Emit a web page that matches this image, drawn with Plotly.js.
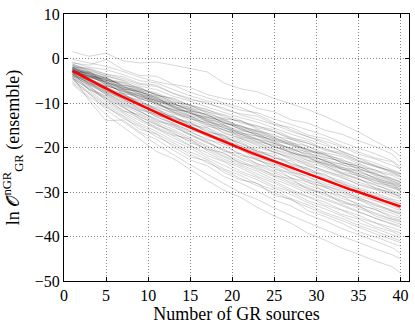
<!DOCTYPE html>
<html>
<head>
<meta charset="utf-8">
<script src="https://cdn.plot.ly/plotly-3.0.1.min.js"></script>
<style>
  html, body { margin: 0; padding: 0; background: #fff; }
</style>
</head>
<body>
<div id="graphDiv" style="width:415px;height:327px;"></div>
<script>
// x positions (number of GR sources) for the ensemble curves
const sourcesX = [1, 3, 5, 7, 9, 11, 13, 15, 17, 19, 21, 23, 25, 27, 29, 31, 33, 35, 37, 39, 40];

// mean curve (red), one value per source count 1..40
const meanX = [];
for (let n = 1; n <= 40; n++) meanX.push(n);
const meanY = [-2.8, -3.8, -4.8, -5.8, -6.8, -7.7, -8.6, -9.5, -10.4, -11.3,
    -12.2, -13.0, -13.9, -14.7, -15.5, -16.3, -17.1, -17.9, -18.7, -19.5,
    -20.2, -21.0, -21.7, -22.4, -23.1, -23.9, -24.6, -25.3, -26.0, -26.7,
    -27.4, -28.0, -28.7, -29.4, -30.0, -30.7, -31.3, -32.0, -32.6, -33.3];

// individual realisations (grey)
const run01 = [1.5, 0.5, 1.2, -0.5, -1.0, -0.8, -1.5, -2.2, -3.0, -5.5, -6.8, -7.5, -9.0, -10.2, -11.5, -13.0, -14.8, -16.5, -18.6, -20.5, -22.0];
const run02 = [-1.0, -1.5, -0.2, -2.5, -3.8, -4.0, -5.8, -6.5, -8.1, -9.0, -9.5, -11.2, -12.0, -13.8, -14.5, -16.1, -17.0, -18.5, -19.8, -21.5, -23.5];
const run03 = [-2.0, -2.2, -3.5, -4.1, -5.6, -6.0, -7.9, -9.3, -9.8, -11.5, -12.4, -13.0, -14.8, -15.5, -17.2, -18.0, -19.6, -21.0, -22.4, -23.2, -24.8];
const run04 = [-3.0, -3.1, -4.4, -6.0, -6.5, -8.3, -8.9, -10.6, -12.0, -12.8, -14.5, -15.3, -16.0, -17.8, -18.6, -20.4, -21.1, -22.9, -24.0, -25.4, -26.0];
const run05 = [-1.8, -3.5, -5.0, -5.4, -7.2, -8.0, -9.9, -10.5, -12.3, -13.6, -14.0, -15.9, -17.5, -18.1, -19.8, -21.2, -22.0, -23.6, -25.1, -26.0, -26.7];
const run06 = [-2.5, -4.0, -4.6, -6.8, -7.5, -9.2, -10.1, -11.8, -12.6, -14.4, -15.8, -16.5, -18.2, -19.0, -20.7, -21.5, -23.4, -24.2, -25.8, -27.3, -27.9];
const run07 = [-3.2, -3.9, -5.8, -7.0, -8.4, -9.0, -11.0, -12.2, -13.5, -14.9, -16.7, -17.4, -19.1, -20.3, -21.6, -23.0, -24.5, -25.1, -26.9, -28.0, -28.6];
const run08 = [-2.2, -4.5, -6.2, -7.1, -9.0, -10.1, -11.6, -13.0, -14.1, -15.6, -17.0, -18.7, -19.5, -21.3, -22.2, -23.8, -24.9, -26.5, -27.4, -29.0, -29.5];
const run09 = [-3.5, -4.2, -5.5, -7.8, -8.8, -10.6, -12.5, -13.4, -15.2, -16.0, -17.8, -19.0, -20.6, -21.8, -23.4, -24.5, -26.0, -27.2, -28.5, -29.6, -30.4];
const run10 = [-2.7, -5.0, -6.4, -8.0, -9.8, -11.0, -12.2, -14.0, -15.5, -17.3, -18.4, -20.1, -21.0, -22.7, -24.1, -25.6, -26.8, -28.2, -29.3, -30.5, -31.0];
const run11 = [-3.8, -4.8, -6.9, -8.5, -9.5, -11.8, -13.1, -14.6, -16.3, -17.5, -19.2, -20.5, -22.3, -23.5, -24.8, -26.3, -27.5, -29.0, -30.2, -31.6, -32.1];
const run12 = [-2.4, -4.6, -7.3, -8.9, -10.6, -12.1, -13.8, -15.1, -16.9, -18.4, -19.6, -21.4, -22.8, -24.4, -25.9, -27.0, -28.6, -29.8, -31.2, -32.4, -33.0];
const run13 = [-3.3, -5.6, -6.8, -9.2, -11.1, -12.7, -14.0, -15.8, -17.4, -18.9, -20.6, -22.0, -23.7, -25.0, -26.7, -28.1, -29.3, -30.9, -32.0, -33.5, -34.2];
const run14 = [-2.9, -5.2, -7.8, -9.6, -11.4, -13.0, -14.9, -16.6, -18.0, -19.8, -21.3, -22.9, -24.2, -26.1, -27.4, -29.0, -30.3, -31.6, -33.1, -34.3, -35.0];
const run15 = [-4.1, -5.9, -7.5, -10.0, -12.0, -13.6, -15.2, -17.3, -18.9, -20.4, -22.2, -23.6, -25.3, -26.8, -28.5, -29.7, -31.4, -32.6, -34.0, -35.4, -35.9];
const run16 = [-2.6, -5.4, -8.2, -10.5, -12.4, -14.3, -16.0, -17.8, -19.6, -21.4, -23.0, -24.7, -26.1, -27.9, -29.2, -30.8, -32.1, -33.7, -35.0, -36.2, -36.8];
const run17 = [-3.6, -6.3, -8.7, -10.9, -13.1, -14.8, -16.9, -18.6, -20.3, -22.1, -23.9, -25.4, -27.2, -28.6, -30.3, -31.7, -33.2, -34.5, -36.0, -37.4, -38.0];
const run18 = [-4.5, -6.8, -9.3, -11.6, -13.5, -15.7, -17.4, -19.5, -21.2, -23.0, -24.6, -26.5, -28.0, -29.8, -31.1, -32.9, -34.1, -35.8, -37.0, -38.6, -39.2];
const run19 = [-3.0, -7.2, -10.0, -12.3, -14.6, -16.4, -18.5, -20.1, -22.3, -24.0, -25.8, -27.3, -29.1, -30.6, -32.4, -33.8, -35.3, -36.9, -38.2, -39.5, -40.3];
const run20 = [-5.2, -8.0, -10.8, -13.4, -15.3, -17.6, -19.4, -21.5, -23.4, -25.1, -27.0, -28.6, -30.2, -31.9, -33.5, -35.0, -36.4, -37.9, -39.4, -40.7, -41.4];
const run21 = [-4.0, -9.5, -14.0, -13.8, -16.5, -18.2, -20.6, -22.8, -24.1, -26.5, -28.0, -29.9, -31.8, -33.2, -35.1, -36.5, -38.2, -39.6, -41.0, -42.5, -43.8];
const run22 = [-5.8, -9.0, -12.6, -15.4, -18.0, -20.9, -22.5, -25.0, -27.4, -29.6, -31.2, -33.5, -35.4, -37.0, -39.3, -40.8, -42.6, -44.0, -45.5, -46.8, -48.2];
const run23 = [-1.2, -2.8, -3.9, -5.0, -6.9, -7.7, -9.4, -11.2, -11.9, -13.9, -15.1, -16.4, -17.7, -19.6, -20.3, -22.1, -23.3, -24.7, -26.0, -27.6, -28.2];
const run24 = [-2.1, -3.7, -6.0, -7.5, -8.0, -10.4, -11.5, -12.9, -14.8, -15.4, -17.6, -18.2, -20.0, -21.0, -22.9, -23.6, -25.5, -26.3, -28.0, -29.1, -29.9];
const run25 = [-3.4, -5.1, -7.0, -7.8, -10.2, -11.4, -12.8, -14.9, -15.6, -17.8, -18.7, -20.9, -21.5, -23.8, -24.6, -26.7, -27.8, -29.5, -30.4, -32.1, -32.6];
const run26 = [-2.3, -4.4, -6.6, -8.3, -9.3, -11.5, -13.4, -14.2, -16.6, -17.2, -19.7, -20.8, -22.4, -23.0, -25.4, -26.0, -28.2, -29.3, -30.9, -31.8, -32.8];
const run27 = [-3.9, -5.3, -7.6, -9.0, -11.5, -12.5, -14.7, -16.2, -17.0, -19.3, -20.2, -22.4, -23.3, -25.6, -26.4, -28.7, -29.6, -31.4, -32.6, -34.3, -34.9];
const run28 = [-2.0, -4.1, -5.2, -6.4, -7.9, -9.6, -10.7, -12.3, -13.9, -16.2, -17.0, -18.0, -19.8, -21.2, -22.1, -24.2, -25.7, -26.9, -29.2, -30.1, -31.4];
const run29 = [-1.5, -3.3, -4.2, -6.3, -7.4, -8.6, -10.2, -11.3, -13.2, -14.1, -15.9, -17.3, -18.6, -20.5, -21.4, -23.1, -24.3, -26.0, -27.1, -28.8, -29.2];
const run30 = [-3.1, -6.0, -8.0, -10.3, -11.9, -13.8, -15.5, -17.0, -19.0, -20.6, -22.5, -24.1, -25.6, -27.5, -28.9, -30.4, -31.9, -33.3, -34.6, -36.1, -36.5];
const run31 = [-4.3, -6.5, -9.0, -11.0, -12.9, -15.0, -16.3, -18.2, -19.9, -21.9, -23.4, -25.0, -26.7, -28.3, -29.8, -31.4, -32.8, -34.4, -35.9, -37.1, -37.6];
const run32 = [-2.8, -5.7, -7.2, -9.4, -10.8, -13.2, -14.5, -16.4, -18.3, -19.1, -21.8, -22.6, -24.9, -25.7, -27.9, -28.8, -30.9, -31.7, -33.6, -34.8, -35.6];
const run33 = [-0.8, -2.0, -2.5, -3.6, -5.0, -5.5, -7.0, -8.4, -9.5, -10.4, -11.6, -12.2, -13.6, -14.8, -16.0, -17.3, -18.8, -20.1, -21.4, -23.0, -24.3];
const run34 = [-1.6, -2.5, -4.0, -4.8, -6.2, -7.0, -8.5, -9.6, -10.9, -12.1, -13.3, -14.3, -15.7, -17.0, -18.2, -19.5, -20.8, -22.3, -23.5, -25.0, -25.8];
const run35 = [-3.7, -6.1, -9.6, -12.0, -14.0, -15.8, -17.9, -19.6, -21.8, -23.2, -25.4, -26.8, -28.7, -30.0, -32.0, -33.2, -35.0, -36.1, -37.8, -38.9, -39.8];
const run36 = [-4.8, -7.5, -10.4, -12.8, -15.0, -16.9, -19.0, -21.0, -22.7, -24.8, -26.3, -28.2, -29.6, -31.5, -32.9, -34.6, -35.9, -37.5, -38.8, -40.2, -41.0];
const run37 = [-2.6, -4.7, -7.4, -8.1, -10.0, -11.2, -13.6, -14.5, -16.0, -18.0, -19.0, -21.1, -22.0, -24.0, -25.0, -27.1, -28.0, -30.1, -30.8, -32.9, -33.7];
const run38 = [-3.5, -5.5, -6.5, -8.8, -10.4, -11.9, -13.2, -15.3, -16.8, -18.1, -20.0, -21.2, -23.0, -24.2, -26.1, -27.2, -29.0, -30.3, -31.9, -33.0, -33.9];
const run39 = [-2.2, -3.0, -5.4, -6.6, -8.6, -9.8, -12.0, -13.6, -14.4, -16.8, -18.0, -19.3, -21.2, -22.1, -24.0, -25.2, -26.6, -28.4, -29.5, -31.0, -31.6];
const run40 = [-0.2, -1.0, -1.8, -2.9, -4.2, -5.2, -6.0, -7.6, -8.8, -10.0, -11.0, -12.6, -14.4, -16.0, -17.6, -19.0, -20.9, -22.4, -24.1, -25.5, -26.5];
const run41 = [-2.2, -3.6, -5.1, -7.2, -8.0, -9.9, -11.6, -11.9, -14.0, -15.2, -16.8, -17.5, -19.4, -20.1, -22.0, -22.8, -24.9, -25.3, -27.0, -28.4, -28.8];
const run42 = [-2.6, -3.2, -4.9, -5.6, -7.6, -8.4, -10.0, -11.8, -12.5, -14.6, -15.1, -16.9, -18.0, -19.2, -20.9, -21.6, -23.5, -24.1, -26.2, -26.9, -27.8];
const run43 = [-1.9, -3.9, -4.3, -6.5, -7.0, -9.0, -10.4, -10.9, -12.9, -13.5, -15.5, -16.3, -17.1, -19.0, -19.7, -21.8, -22.6, -24.4, -25.0, -27.1, -27.6];
const run44 = [-3.0, -3.4, -5.5, -6.2, -8.1, -8.7, -10.9, -12.5, -13.1, -14.9, -16.3, -16.8, -18.9, -20.2, -21.0, -23.1, -23.7, -25.6, -26.7, -28.1, -29.0];
const run45 = [-2.4, -4.2, -4.7, -6.9, -7.3, -9.4, -10.6, -12.2, -13.3, -13.8, -15.6, -17.4, -18.3, -19.5, -21.3, -22.3, -23.0, -25.0, -25.8, -27.5, -28.3];
const run46 = [-2.7, -3.5, -5.9, -7.4, -8.5, -9.5, -11.3, -12.0, -14.3, -15.0, -17.1, -18.2, -19.0, -21.1, -22.0, -23.4, -24.8, -25.9, -27.5, -28.2, -29.6];
const run47 = [-1.6, -2.9, -4.6, -5.3, -6.6, -8.2, -9.1, -10.6, -11.4, -13.2, -14.2, -15.1, -16.6, -17.9, -19.1, -20.2, -21.7, -23.2, -24.3, -25.6, -26.4];
const run48 = [-2.9, -4.0, -5.2, -6.9, -8.9, -9.3, -11.1, -12.8, -13.6, -15.7, -16.5, -18.3, -19.9, -20.6, -22.5, -23.5, -24.6, -26.2, -27.9, -28.6, -29.8];
const run49 = [-3.3, -3.8, -4.8, -6.1, -7.7, -9.6, -10.3, -11.5, -13.8, -14.3, -16.0, -17.0, -18.6, -19.3, -20.5, -22.6, -23.9, -24.6, -26.4, -27.8, -28.5];
const run50 = [-2.0, -3.1, -5.6, -6.7, -7.5, -8.8, -10.8, -11.4, -12.7, -14.5, -15.3, -16.1, -17.9, -18.7, -20.6, -21.3, -22.9, -23.8, -25.4, -26.3, -27.2];
const run51 = [-2.5, -4.3, -5.3, -7.9, -8.3, -10.2, -11.9, -13.1, -14.6, -16.0, -17.3, -18.8, -20.4, -21.5, -23.0, -24.0, -25.8, -27.0, -28.3, -29.9, -30.6];
const run52 = [-3.1, -4.6, -6.1, -7.3, -9.1, -10.0, -12.1, -13.3, -14.9, -16.6, -18.0, -19.6, -20.9, -22.4, -23.6, -25.3, -26.3, -27.8, -29.0, -30.2, -30.9];
const run53 = [-1.3, -2.4, -3.6, -4.5, -5.8, -6.3, -7.8, -9.0, -10.2, -11.1, -12.7, -13.7, -14.9, -16.4, -17.6, -18.6, -19.9, -21.5, -22.6, -24.0, -24.8];
const run54 = [-2.3, -3.4, -4.5, -6.0, -6.8, -8.1, -9.7, -10.4, -11.6, -12.6, -13.9, -15.6, -16.4, -18.2, -19.0, -20.7, -21.4, -23.0, -24.3, -25.2, -26.0];
const run55 = [-4.6, -7.9, -11.5, -14.2, -16.8, -19.3, -21.6, -23.9, -26.0, -28.1, -30.2, -31.7, -33.6, -35.3, -36.9, -38.4, -40.0, -41.3, -42.8, -44.1, -45.0];
const run56 = [-5.5, -8.6, -11.0, -13.0, -15.9, -17.0, -19.9, -22.1, -23.0, -25.6, -27.3, -28.0, -30.8, -31.6, -34.2, -35.5, -37.0, -38.9, -40.1, -41.6, -42.2];
const run57 = [-3.9, -6.9, -8.4, -10.7, -13.6, -15.4, -17.2, -18.1, -20.7, -22.6, -24.2, -26.0, -27.6, -29.4, -31.0, -32.3, -34.0, -35.2, -36.9, -38.0, -38.7];
const run58 = [-4.4, -7.0, -8.9, -11.8, -12.6, -14.6, -16.6, -18.9, -20.4, -21.2, -23.6, -24.3, -26.4, -27.0, -29.5, -30.2, -32.5, -33.0, -35.4, -36.6, -37.2];
const run59 = [-3.6, -5.8, -7.9, -9.9, -11.7, -14.1, -14.9, -17.1, -18.6, -20.9, -21.4, -23.8, -24.5, -26.9, -27.7, -29.9, -30.8, -33.0, -33.9, -35.8, -36.3];
const run60 = [-2.9, -5.0, -6.3, -8.6, -10.1, -12.9, -13.0, -15.0, -17.6, -18.2, -20.5, -22.8, -23.9, -25.3, -27.3, -28.4, -30.0, -31.2, -32.9, -34.0, -34.6];

const runs = [run01, run02, run03, run04, run05, run06, run07, run08, run09, run10,
    run11, run12, run13, run14, run15, run16, run17, run18, run19, run20,
    run21, run22, run23, run24, run25, run26, run27, run28, run29, run30,
    run31, run32, run33, run34, run35, run36, run37, run38, run39, run40,
    run41, run42, run43, run44, run45, run46, run47, run48, run49, run50,
    run51, run52, run53, run54, run55, run56, run57, run58, run59, run60];

const traces = runs.map((ys) => ({
    x: sourcesX, y: ys, mode: "lines", hoverinfo: "skip",
    line: { color: "rgba(0,0,0,0.16)", width: 1 }
}));
traces.push({ x: meanX, y: meanY, mode: "lines", line: { color: "#ff0000", width: 2.5 } });

const serif = { family: "Liberation Serif, DejaVu Serif, serif", size: 16, color: "#000" };

const axisBase = {
    showline: true, linecolor: "#000", linewidth: 1, mirror: "ticks",
    ticks: "inside", ticklen: 4, tickcolor: "#000",
    showgrid: true, gridcolor: "#888", griddash: "1px,2px", gridwidth: 1,
    zeroline: false, tickfont: serif
};

const layout = {
    width: 415, height: 327,
    margin: { l: 64, r: 6, t: 14, b: 46 },
    paper_bgcolor: "#fff", plot_bgcolor: "#fff",
    showlegend: false,
    xaxis: Object.assign({}, axisBase, {
        range: [0, 41], dtick: 5, tick0: 0,
        title: { text: "Number of GR sources", font: { family: serif.family, size: 18, color: "#000" }, standoff: 4 }
    }),
    yaxis: Object.assign({}, axisBase, {
        range: [-50, 10], dtick: 10, tick0: 0,
        title: { text: "ln 𝒪<sup>nGR</sup><sub>GR</sub> (ensemble)", font: { family: serif.family, size: 18, color: "#000" }, standoff: 10 }
    })
};

Plotly.newPlot("graphDiv", traces, layout, { staticPlot: true });
</script>
</body>
</html>
